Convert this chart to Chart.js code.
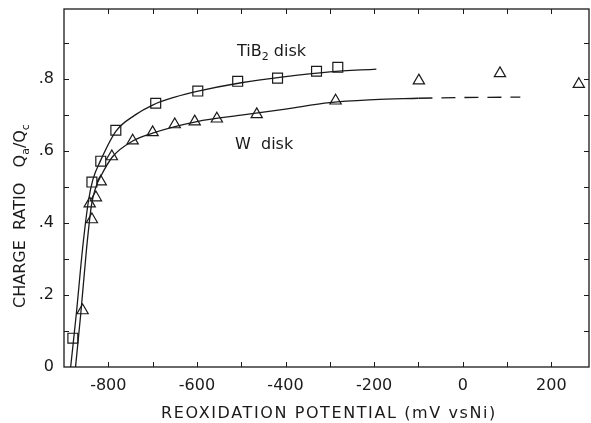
<!DOCTYPE html>
<html>
<head>
<meta charset="utf-8">
<script src="https://cdn.jsdelivr.net/npm/chart.js@4.4.1/dist/chart.umd.min.js"></script>
<style>
  html, body { margin: 0; padding: 0; background: #fff; }
  #wrap { width: 591px; height: 423px; }
</style>
</head>
<body>
<div id="wrap"><canvas id="chart" width="591" height="423"></canvas></div>
<script>
// measured points, TiB2 disk (squares)
const tibPotential = [-880, -837, -817, -783, -693, -598, -508, -418, -330, -282];
const tibRatio = [0.08, 0.514, 0.572, 0.658, 0.733, 0.767, 0.794, 0.803, 0.822, 0.833];

// measured points, W disk (triangles)
const wPotential = [-858, -837, -842, -828, -817, -792, -745, -700, -650, -605, -555, -465, -287, -99, 84, 262];
const wRatio = [0.157, 0.41, 0.454, 0.471, 0.515, 0.585, 0.629, 0.652, 0.674, 0.682, 0.69, 0.702, 0.74, 0.796, 0.816, 0.786];

// drawn curves
const tibCurveX = [-885, -872, -858, -845, -835, -817, -783, -740, -700, -650, -600, -500, -400, -300, -195];
const tibCurveY = [0, 0.15, 0.33, 0.46, 0.52, 0.575, 0.655, 0.70, 0.728, 0.75, 0.766, 0.79, 0.807, 0.82, 0.828];
const wCurveX = [-874, -862, -849, -838, -828, -817, -790, -745, -700, -600, -500, -400, -300, -200, -100];
const wCurveY = [0, 0.15, 0.33, 0.45, 0.50, 0.53, 0.585, 0.628, 0.65, 0.682, 0.70, 0.717, 0.735, 0.743, 0.747];
const wDashX = [-100, 0, 130];
const wDashY = [0.747, 0.749, 0.75];

const xTickLabels = ['-800', '-600', '-400', '-200', '0', '200'];
const yTickLabels = ['0', '.2', '.4', '.6', '.8'];

const ink = '#1a1a1a';
const font = '"DejaVu Sans", sans-serif';

const pts = (xs, ys) => xs.map((x, i) => ({ x: x, y: ys[i] }));

function curve(xs, ys, dash) {
  return {
    type: 'line',
    data: pts(xs, ys),
    borderColor: ink,
    borderWidth: 1.3,
    borderDash: dash || [],
    pointRadius: 0,
    cubicInterpolationMode: 'monotone',
    fill: false
  };
}

// frame, inward ticks, axis titles and curve labels
const decorations = {
  id: 'decorations',
  afterDraw(chart) {
    const { ctx, chartArea: a, scales: { x, y } } = chart;
    ctx.save();
    ctx.strokeStyle = ink;
    ctx.lineWidth = 1.3;
    ctx.strokeRect(a.left, a.top, a.right - a.left, a.bottom - a.top);

    ctx.lineWidth = 1;
    ctx.beginPath();
    x.ticks.forEach(t => {
      if (t.value <= -900) return;
      const px = Math.round(x.getPixelForValue(t.value)) + 0.5;
      ctx.moveTo(px, a.bottom); ctx.lineTo(px, a.bottom - 5);
      ctx.moveTo(px, a.top); ctx.lineTo(px, a.top + 5);
    });
    y.ticks.forEach(t => {
      if (t.value <= 0) return;
      const py = Math.round(y.getPixelForValue(t.value)) + 0.5;
      ctx.moveTo(a.left, py); ctx.lineTo(a.left + 5, py);
      ctx.moveTo(a.right, py); ctx.lineTo(a.right - 5, py);
    });
    ctx.stroke();

    ctx.fillStyle = ink;
    ctx.textBaseline = 'alphabetic';

    // runs of [text, isSubscript]
    function runs(parts, x0, y0) {
      let cx = x0;
      parts.forEach(([txt, sub]) => {
        ctx.font = (sub ? '11px ' : '16px ') + font;
        ctx.fillText(txt, cx, y0 + (sub ? 4 : 0));
        cx += ctx.measureText(txt).width;
      });
    }
    function width(parts) {
      return parts.reduce((w, [txt, sub]) => {
        ctx.font = (sub ? '11px ' : '16px ') + font;
        return w + ctx.measureText(txt).width;
      }, 0);
    }

    runs([['TiB', false], ['2', true], [' disk', false]], 237, 56);
    runs([['W  disk', false]], 235, 149);

    // x title
    ctx.font = '16px ' + font;
    ctx.letterSpacing = '1.6px';
    ctx.textAlign = 'center';
    ctx.fillText('REOXIDATION POTENTIAL (mV vsNi)', 329, 418);
    ctx.textAlign = 'left';
    ctx.letterSpacing = '0px';

    // y title, rotated
    const yTitle = [['CHARGE  RATIO   Q', false], ['a', true], ['/Q', false], ['c', true]];
    ctx.translate(25, 216);
    ctx.rotate(-Math.PI / 2);
    runs(yTitle, -width(yTitle) / 2, 0);
    ctx.restore();
  }
};

new Chart(document.getElementById('chart').getContext('2d'), {
  type: 'scatter',
  data: {
    datasets: [
      curve(tibCurveX, tibCurveY),
      curve(wCurveX, wCurveY),
      curve(wDashX, wDashY, [14, 9]),
      {
        label: 'TiB2 disk',
        data: pts(tibPotential, tibRatio),
        pointStyle: 'rect',
        pointRadius: 7,
        borderWidth: 1.2,
        borderColor: ink,
        backgroundColor: '#fff'
      },
      {
        label: 'W disk',
        data: pts(wPotential, wRatio),
        pointStyle: 'triangle',
        pointRadius: 6.5,
        borderWidth: 1.2,
        borderColor: ink,
        backgroundColor: '#fff'
      }
    ]
  },
  options: {
    responsive: false,
    animation: false,
    layout: { autoPadding: false, padding: { top: 9, right: 2, left: 0, bottom: 0 } },
    plugins: {
      legend: { display: false },
      tooltip: { enabled: false }
    },
    scales: {
      x: {
        type: 'linear',
        min: -900,
        max: 285,
        grid: { display: false, drawTicks: false },
        border: { display: false },
        afterFit: s => {
          s.height = 56;
          s.paddingLeft = 0; s.paddingRight = 0;
        },
        ticks: {
          stepSize: 100,
          includeBounds: false,
          autoSkip: false,
          maxRotation: 0,
          padding: 9,
          color: ink,
          font: { family: font, size: 16 },
          callback: v => {
            const i = xTickLabels.indexOf(String(v));
            return i >= 0 ? xTickLabels[i] : '';
          }
        }
      },
      y: {
        min: 0,
        max: 0.995,
        grid: { display: false, drawTicks: false },
        border: { display: false },
        afterFit: s => {
          s.width = 64;
          s.paddingTop = 0; s.paddingBottom = 0;
        },
        ticks: {
          stepSize: 0.1,
          includeBounds: false,
          autoSkip: false,
          padding: 10,
          color: ink,
          font: { family: font, size: 16 },
          callback: v => {
            const k = Math.round(v * 10);
            return k % 2 === 0 ? yTickLabels[k / 2] : '';
          }
        }
      }
    }
  },
  plugins: [decorations]
});
</script>
</body>
</html>
